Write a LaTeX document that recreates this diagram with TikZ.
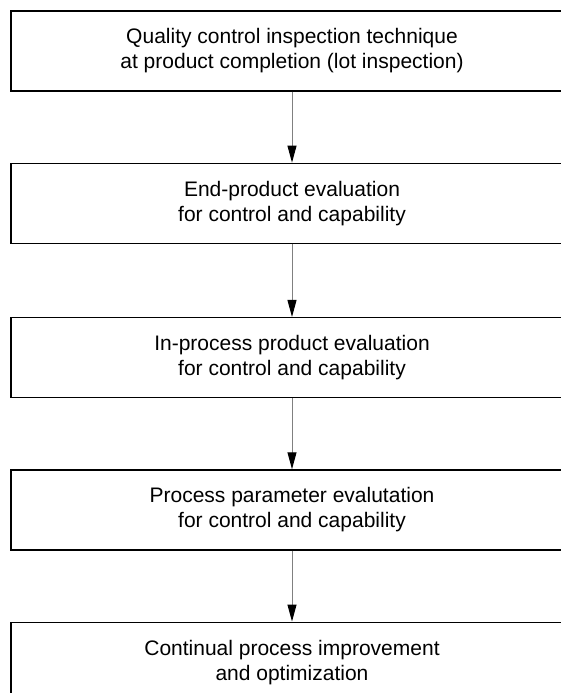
\documentclass[tikz,border=0pt]{standalone}
\usepackage{fontspec}
\setmainfont{Liberation Sans}
\usetikzlibrary{arrows.meta}
\usetikzlibrary{positioning}

\tikzset{
    etapa/.style={draw, line width=1.3pt, minimum width=562pt, minimum height=80pt,
        inner sep=0pt, align=center, font=\fontsize{21}{25}\selectfont},
    seta/.style={draw=gray, line width=1pt, -{Triangle[black, length=17pt, width=9pt]}}
}

\begin{document}
\begin{tikzpicture}[x=1pt, y=1pt, node distance=71pt]
    
    % area visivel
    \useasboundingbox (0,0) rectangle (561,-693);
    \clip (0,0) rectangle (561,-693);
    
    % etapas
    \node[etapa] (inspecao) at (292,-51) {Quality control inspection technique\\at product completion (lot inspection)};
    \node[etapa, below=of inspecao] (final) {End-product evaluation\\for control and capability};
    \node[etapa, below=73pt of final] (processo) {In-process product evaluation\\for control and capability};
    \node[etapa, below=of processo] (parametro) {Process parameter evalutation\\for control and capability};
    \node[etapa, below=of parametro] (melhoria) {Continual process improvement\\and optimization};
    
    % setas
    \draw[seta] (inspecao) -- (final);
    \draw[seta] (final) -- (processo);
    \draw[seta] (processo) -- (parametro);
    \draw[seta] (parametro) -- (melhoria);
    
\end{tikzpicture}
\end{document}
